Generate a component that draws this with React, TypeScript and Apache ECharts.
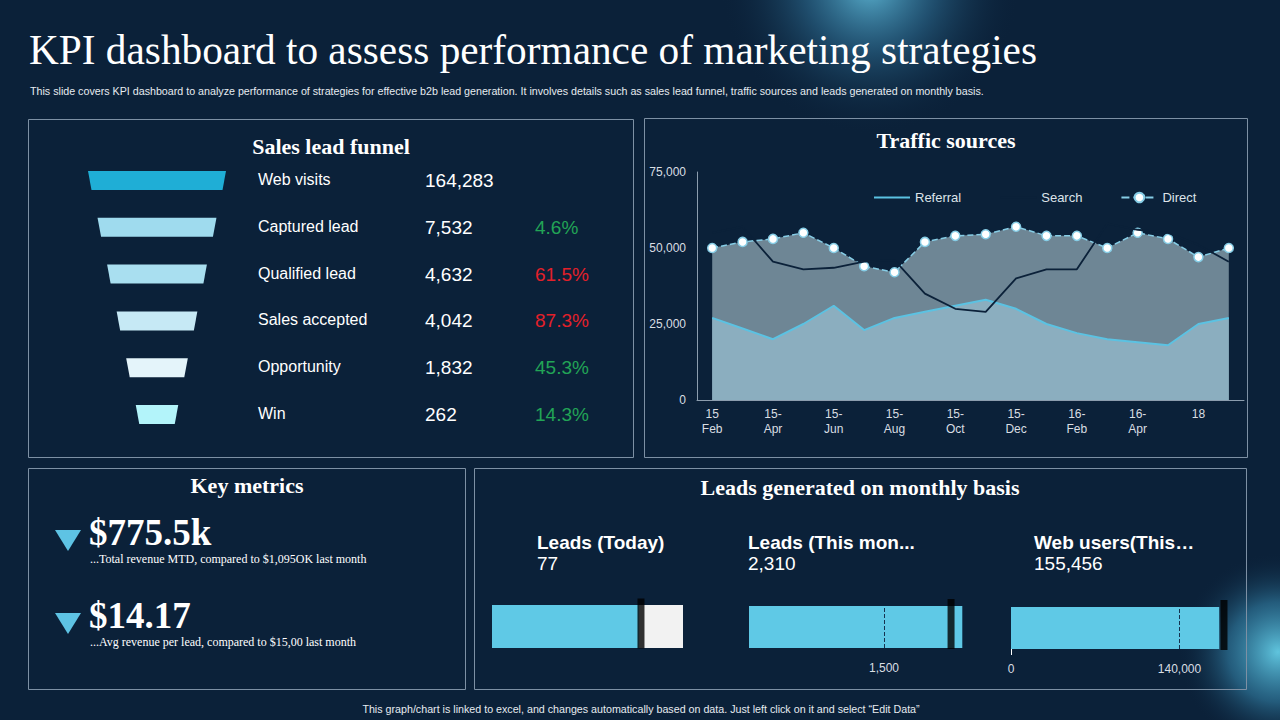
import React, { useEffect, useRef } from "react";
import * as echarts from "echarts";

// ---------- DATA ----------
const months = [
  "15-Feb", "15-Mar", "15-Apr", "15-May", "15-Jun", "15-Jul", "15-Aug", "15-Sep", "15-Oct",
  "15-Nov", "15-Dec", "16-Jan", "16-Feb", "16-Mar", "16-Apr", "16-May", "16-Jun", "16-Jul",
];
const tickOverrides: Record<string, string> = { "15-Feb": "15\nFeb", "16-Jun": "18" };
const referral = [27000, 23500, 20000, 25000, 31000, 23000, 27000, 29000, 31000, 33000, 30000, 25000, 22000, 20000, 19000, 18000, 25000, 27000];
const search = [55000, 57000, 45500, 43000, 43500, 45500, 46000, 35000, 30000, 29000, 40000, 43000, 43000, 58000, 56000, 55000, 51000, 45500];
const direct = [50000, 52000, 53000, 55000, 50000, 44000, 42000, 52000, 54000, 54500, 57000, 54000, 54000, 50000, 55000, 53000, 47000, 50000];
const trafficMax = 75000;
const trafficStep = 25000;

const funnelStages = ["Web visits", "Captured lead", "Qualified lead", "Sales accepted", "Opportunity", "Win"];
const funnelValues = [164283, 7532, 4632, 4042, 1832, 262];
const funnelRates = ["", "4.6%", "61.5%", "87.3%", "45.3%", "14.3%"];
const funnelRateGood = [true, true, false, false, true, true];

const metricValues = ["$775.5k", "$14.17"];
const metricNotes = [
  "...Total revenue MTD, compared to $1,095OK last month",
  "...Avg revenue per lead, compared to $15,00 last month",
];

const gaugeTitles = ["Leads (Today)", "Leads (This mon...", "Web users(This…"];
const gaugeValues = [77, 2310, 155456];
const gaugeBars = [77, 2370, 173000];
const gaugeTargets = [78, 2245, 177000];
const gaugeRefs: (number | null)[] = [null, 1500, 140000];
const gaugeMax = [100, 2500, 180000];
const gaugeTickLabels: number[][] = [[], [1500], [0, 140000]];

// ---------- STYLE ----------
const BG = "#0B2139";
const BORDER = "#7D90A4";
const SANS = "Liberation Sans";
const SERIF = "Liberation Serif";
const funnelColors = ["#1FAED6", "#9FDBEE", "#A9DFF0", "#C6E9F5", "#E4F4FA", "#B3F4FA"];
const gaugeLeft = [492, 749, 1011];
const gaugeTop = [605, 606, 607];
const gaugeWidth = [191, 225, 216.6];
const gaugeHeight = [43, 42, 42];
const gaugeTextX = [537, 748, 1034];

const fmt = (v: number) => v.toLocaleString("en-US");

function txt(x: number, y: number, text: string, style: any, extra: any = {}) {
  return {
    type: "text",
    x,
    y,
    silent: true,
    style: { text, fill: "#FFFFFF", verticalAlign: "middle", align: "left", ...style },
    ...extra,
  };
}

function rectBorder(x: number, y: number, w: number, h: number) {
  return {
    type: "rect",
    shape: { x, y, width: w, height: h },
    style: { fill: "rgba(0,0,0,0)", stroke: BORDER, lineWidth: 1 },
    silent: true,
  };
}

export default function App() {
  const ref = useRef<HTMLDivElement>(null);

  useEffect(() => {
    if (!ref.current) return;
    const chart = echarts.init(ref.current, undefined, { renderer: "svg" });

    const glowTop = {
      type: "radial", x: 0.5, y: 0.5, r: 0.5,
      colorStops: [
        { offset: 0, color: "rgba(95,185,215,0.95)" },
        { offset: 0.45, color: "rgba(55,130,170,0.45)" },
        { offset: 1, color: "rgba(11,33,57,0)" },
      ],
    };
    const glowBR = {
      type: "radial", x: 0.5, y: 0.5, r: 0.5,
      colorStops: [
        { offset: 0, color: "rgba(100,205,230,0.95)" },
        { offset: 0.5, color: "rgba(60,150,190,0.5)" },
        { offset: 1, color: "rgba(11,33,57,0)" },
      ],
    };

    const graphics: any[] = [
      { type: "ellipse", shape: { cx: 870, cy: -15, rx: 150, ry: 150 }, style: { fill: glowTop }, silent: true, z: -10 },
      { type: "circle", shape: { cx: 1278, cy: 652, r: 100 }, style: { fill: glowBR }, silent: true, z: -10 },
      rectBorder(28.5, 119.5, 605, 338),
      rectBorder(644.5, 118.5, 603, 339),
      rectBorder(28.5, 468.5, 437, 221),
      rectBorder(474.5, 468.5, 772, 221),
      txt(29, 50, "KPI dashboard to assess performance of marketing strategies", { fontFamily: SERIF, fontSize: 41.3 }),
      txt(30, 91, "This slide covers KPI dashboard to analyze performance of strategies for effective b2b lead generation. It involves details such as sales lead funnel, traffic sources and leads generated on monthly basis.", { fontFamily: SANS, fontSize: 10.7, fill: "#E6EBF0" }),
      txt(331, 146, "Sales lead funnel", { fontFamily: SERIF, fontSize: 22, fontWeight: "bold", align: "center" }),
      txt(946, 140, "Traffic sources", { fontFamily: SERIF, fontSize: 22, fontWeight: "bold", align: "center" }),
      txt(247, 485, "Key metrics", { fontFamily: SERIF, fontSize: 22, fontWeight: "bold", align: "center" }),
      txt(860, 487, "Leads generated on monthly basis", { fontFamily: SERIF, fontSize: 22, fontWeight: "bold", align: "center" }),
      txt(641, 709, "This graph/chart is linked to excel, and changes automatically based on data. Just left click on it and select \u201cEdit Data\u201d", { fontFamily: SANS, fontSize: 10.7, align: "center", fill: "#E6EBF0" }),
    ];

    // key metrics
    const metricY = [532, 615];
    const noteY = [559, 642];
    const triTop = [530, 613];
    metricValues.forEach((v, i) => {
      const ty = triTop[i];
      graphics.push({
        type: "polygon",
        shape: { points: [[55, ty], [81, ty], [68, ty + 21]] },
        style: { fill: "#5EC3E4" },
        silent: true,
      });
      graphics.push(txt(89, metricY[i], v, { fontFamily: SERIF, fontSize: 37, fontWeight: "bold" }));
      graphics.push(txt(90, noteY[i], metricNotes[i], { fontFamily: SERIF, fontSize: 12 }));
    });

    // gauge titles
    gaugeTitles.forEach((t, i) => {
      graphics.push(txt(gaugeTextX[i], 542, t, { fontFamily: SANS, fontSize: 19, fontWeight: "bold" }));
      graphics.push(txt(gaugeTextX[i], 563, fmt(gaugeValues[i]), { fontFamily: SANS, fontSize: 19 }));
    });

    const grids: any[] = [
      { left: 697, top: 172, width: 547, height: 228 },
      ...gaugeLeft.map((l, i) => ({ left: l, top: gaugeTop[i], width: gaugeWidth[i], height: gaugeHeight[i] })),
      { left: 28, top: 157, width: 606, height: 281 },
    ];

    const xAxes: any[] = [
      {
        type: "category", gridIndex: 0, data: months, boundaryGap: true,
        axisLine: { show: true, lineStyle: { color: "#8C9DAE", width: 1 } },
        axisTick: { show: false },
        splitLine: { show: false },
        axisLabel: {
          interval: 1, color: "#D9DEE3", fontSize: 12, fontFamily: SANS, lineHeight: 14.5, margin: 7,
          formatter: (v: string) => tickOverrides[v] ?? v.replace("-", "-\n"),
        },
      },
      ...gaugeMax.map((m, i) => ({
        type: "value", gridIndex: i + 1, min: 0, max: m,
        axisLine: { show: false },
        splitLine: { show: false },
        axisTick: i === 2
          ? { show: true, customValues: [0], length: 6, lineStyle: { color: "#FFFFFF" } }
          : { show: false },
        axisLabel: {
          show: gaugeTickLabels[i].length > 0,
          customValues: gaugeTickLabels[i],
          color: "#D9DEE3", fontSize: 12, fontFamily: SANS, margin: 14,
          formatter: (v: number) => fmt(v),
        },
      })),
      { type: "value", gridIndex: 4, min: 0, max: 1, show: false },
    ];

    const yAxes: any[] = [
      {
        type: "value", gridIndex: 0, min: 0, max: trafficMax, interval: trafficStep,
        axisLine: { show: true, lineStyle: { color: "#8C9DAE", width: 1 } },
        axisTick: { show: false },
        splitLine: { show: false },
        axisLabel: { color: "#D9DEE3", fontSize: 12, fontFamily: SANS, margin: 11 },
      },
      ...gaugeMax.map((_, i) => ({ type: "category", gridIndex: i + 1, data: ["g"], show: false })),
      { type: "category", gridIndex: 4, data: funnelStages, inverse: true, show: false },
    ];

    const series: any[] = [
      {
        name: "Direct", type: "line", xAxisIndex: 0, yAxisIndex: 0, data: direct, z: 2,
        symbol: "circle", symbolSize: 9, showSymbol: true,
        lineStyle: { color: "#86CDE6", width: 1.5, type: "dashed" },
        itemStyle: { color: "#FFFFFF", borderColor: "#86CDE6", borderWidth: 1.5 },
        areaStyle: { color: "#6E8695", opacity: 1 },
      },
      {
        name: "Referral", type: "line", xAxisIndex: 0, yAxisIndex: 0, data: referral, z: 3,
        symbol: "none",
        lineStyle: { color: "#5BC2E2", width: 2 },
        itemStyle: { color: "#5BC2E2" },
        areaStyle: { color: "#8BAEBF", opacity: 1 },
      },
      {
        name: "Search", type: "line", xAxisIndex: 0, yAxisIndex: 0, data: search, z: 4,
        symbol: "none",
        lineStyle: { color: BG, width: 1.8 },
        itemStyle: { color: BG },
      },
    ];

    gaugeMax.forEach((m, i) => {
      const gi = i + 1;
      if (i === 0) {
        series.push({
          type: "bar", xAxisIndex: gi, yAxisIndex: gi, data: [m], barWidth: "100%", barGap: "-100%",
          itemStyle: { color: "#F2F2F2" }, silent: true, z: 2,
        });
      }
      series.push({
        type: "bar", xAxisIndex: gi, yAxisIndex: gi, data: [gaugeBars[i]], barWidth: "100%", barGap: "-100%",
        itemStyle: { color: "#5FC9E6" }, silent: true, z: 3,
        markLine: gaugeRefs[i] == null ? undefined : {
          silent: true, symbol: ["none", "none"], label: { show: false },
          lineStyle: { type: "dashed", color: "#16324F", width: 1 },
          data: [{ xAxis: gaugeRefs[i] }],
        },
      });
      series.push({
        type: "scatter", xAxisIndex: gi, yAxisIndex: gi, data: [[gaugeTargets[i], 0]],
        symbol: "rect", symbolSize: [7, 50], symbolOffset: [0, -3],
        itemStyle: { color: "#000000" }, silent: true, z: 5,
      });
    });

    series.push({
      type: "custom", xAxisIndex: 4, yAxisIndex: 4, silent: true,
      data: funnelStages.map((_, i) => [0, i]),
      encode: { x: 0, y: 1 },
      renderItem: (params: any, api: any) => {
        const i = params.dataIndex;
        const yc = api.coord([0, i])[1];
        const cx = 157;
        const topW = 138 - i * 19.1;
        const botW = topW - 7;
        const h = 19;
        const children: any[] = [
          {
            type: "polygon",
            shape: { points: [[cx - topW / 2, yc - h / 2], [cx + topW / 2, yc - h / 2], [cx + botW / 2, yc + h / 2], [cx - botW / 2, yc + h / 2]] },
            style: { fill: funnelColors[i] },
          },
          { type: "text", x: 258, y: yc - 1, style: { text: funnelStages[i], fill: "#FFFFFF", fontSize: 16, fontFamily: SANS, verticalAlign: "middle" } },
          { type: "text", x: 425, y: yc, style: { text: fmt(funnelValues[i]), fill: "#FFFFFF", fontSize: 19, fontFamily: SANS, verticalAlign: "middle" } },
        ];
        if (funnelRates[i]) {
          children.push({
            type: "text", x: 535, y: yc,
            style: { text: funnelRates[i], fill: funnelRateGood[i] ? "#22A456" : "#E3202A", fontSize: 19, fontFamily: SANS, verticalAlign: "middle" },
          });
        }
        return { type: "group", children };
      },
    });

    const hiddenSymbol = { color: "rgba(0,0,0,0)", borderColor: "rgba(0,0,0,0)", borderWidth: 0, opacity: 0 };

    chart.setOption({
      animation: false,
      backgroundColor: BG,
      textStyle: { fontFamily: SANS },
      grid: grids,
      xAxis: xAxes,
      yAxis: yAxes,
      legend: {
        data: [
          { name: "Referral", itemStyle: hiddenSymbol },
          { name: "Search", itemStyle: hiddenSymbol },
          { name: "Direct" },
        ],
        left: 873, top: 191, padding: 0, itemWidth: 36, itemHeight: 12, itemGap: 38,
        textStyle: { color: "#DDE4EA", fontSize: 13, fontFamily: SANS },
        selectedMode: false,
      },
      graphic: graphics,
      series,
    });

    return () => chart.dispose();
  }, []);

  return <div ref={ref} style={{ position: "fixed", left: 0, top: 0, width: 1280, height: 720 }} />;
}
